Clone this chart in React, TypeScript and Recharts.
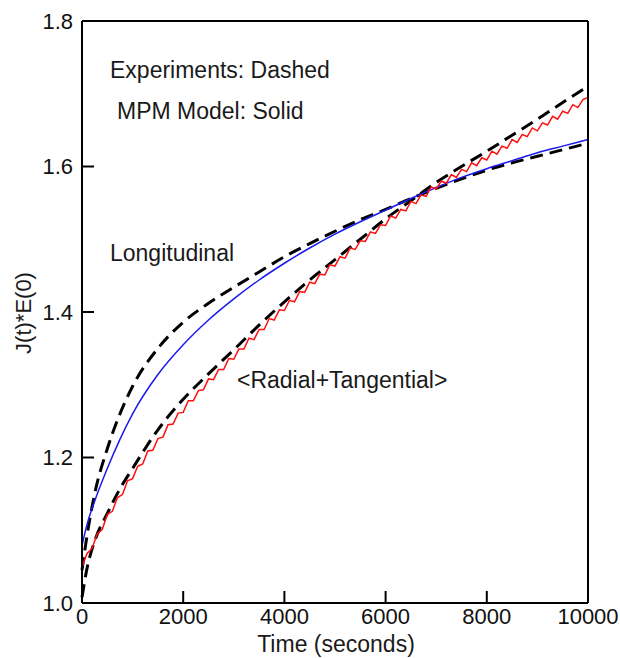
import { LineChart, Line, XAxis, YAxis } from "recharts";

const FONT = '"Liberation Sans", Arial, Helvetica, sans-serif';

const xTicks = [0, 2000, 4000, 6000, 8000, 10000];
const yTicks = [1.0, 1.2, 1.4, 1.6, 1.8];

// times (s) used by the three smooth curves
const smoothTimes = [
  0, 100, 250, 500, 750, 1000, 1500, 2000, 2500, 3000, 3500, 4000, 4500,
  5000, 5500, 6000, 6500, 7000, 7500, 8000, 8500, 9000, 9500, 10000,
];

// longitudinal, experiment (dashed)
const longitudinalExp = [
  1.045, 1.093, 1.15, 1.212, 1.26, 1.298, 1.35, 1.386, 1.412, 1.434, 1.455,
  1.476, 1.494, 1.511, 1.527, 1.541, 1.556, 1.57, 1.583, 1.595, 1.605, 1.614,
  1.623, 1.632,
];

// longitudinal, MPM model (blue)
const longitudinalModel = [
  1.079, 1.108, 1.14, 1.185, 1.225, 1.26, 1.314, 1.355, 1.389, 1.418, 1.444,
  1.467, 1.488, 1.507, 1.524, 1.54, 1.556, 1.571, 1.585, 1.597, 1.608, 1.619,
  1.628, 1.637,
];

// radial+tangential, experiment (dashed)
const radialExp = [
  1.008, 1.048, 1.085, 1.123, 1.157, 1.185, 1.238, 1.28, 1.315, 1.348, 1.382,
  1.414, 1.444, 1.472, 1.5, 1.528, 1.553, 1.578, 1.6, 1.621, 1.643, 1.665,
  1.688, 1.71,
];

// radial+tangential, MPM model (red, jagged), every 100 s
const radialModelTimes = Array.from({ length: 101 }, (_, i) => i * 100);
const radialModel = [
  1.049, 1.068, 1.075, 1.095, 1.101, 1.122, 1.126, 1.145, 1.149, 1.168,
  1.171, 1.188, 1.191, 1.209, 1.21, 1.226, 1.228, 1.245, 1.246, 1.261,
  1.262, 1.278, 1.278, 1.292, 1.293, 1.308, 1.307, 1.321, 1.321, 1.336,
  1.335, 1.349, 1.349, 1.364, 1.362, 1.376, 1.376, 1.391, 1.389, 1.403,
  1.402, 1.416, 1.414, 1.428, 1.427, 1.441, 1.439, 1.452, 1.451, 1.465,
  1.463, 1.476, 1.474, 1.488, 1.486, 1.498, 1.497, 1.51, 1.508, 1.52,
  1.519, 1.532, 1.529, 1.541, 1.539, 1.552, 1.549, 1.561, 1.559, 1.572,
  1.569, 1.58, 1.577, 1.589, 1.585, 1.596, 1.593, 1.605, 1.601, 1.612,
  1.609, 1.621, 1.617, 1.628, 1.625, 1.637, 1.633, 1.644, 1.641, 1.653,
  1.649, 1.66, 1.657, 1.669, 1.665, 1.676, 1.673, 1.685, 1.681, 1.692,
  1.695,
];

const toPoints = (ts: number[], vs: number[]) =>
  ts.map((t, i) => ({ t, v: vs[i] }));

const longExpData = toPoints(smoothTimes, longitudinalExp);
const longModelData = toPoints(smoothTimes, longitudinalModel);
const radExpData = toPoints(smoothTimes, radialExp);
const radModelData = toPoints(radialModelTimes, radialModel);

const W = 612;
const H = 650;

const tickStyle = { fill: "#111", fontSize: 22, fontFamily: FONT };
const axisLine = { stroke: "#000", strokeWidth: 2 };
const tickLine = { stroke: "#000", strokeWidth: 2 };

export default function App() {
  return (
    <div style={{ width: 620, height: 658, boxSizing: "border-box", padding: 8 }}>
      <style>{"body { margin: 0; }"}</style>
      <div style={{ position: "relative", width: W, height: H }}>
        <LineChart
          width={W}
          height={H}
          margin={{ top: 12, right: 31, left: 0, bottom: 0 }}
          style={{ overflow: "visible" }}
        >
          <XAxis
            dataKey="t"
            type="number"
            domain={[0, 10000]}
            ticks={xTicks}
            height={55}
            tickSize={-12}
            tickMargin={17}
            axisLine={axisLine}
            tickLine={tickLine}
            tick={tickStyle}
          />
          <XAxis
            xAxisId="top"
            orientation="top"
            dataKey="t"
            type="number"
            domain={[0, 10000]}
            ticks={xTicks}
            height={1}
            tickSize={-12}
            tickFormatter={() => ""}
            axisLine={axisLine}
            tickLine={tickLine}
          />
          <YAxis
            type="number"
            domain={[1, 1.8]}
            ticks={yTicks}
            width={74}
            tickSize={-12}
            tickMargin={21}
            tickFormatter={(v: number) => v.toFixed(1)}
            axisLine={axisLine}
            tickLine={tickLine}
            tick={tickStyle}
          />
          <YAxis
            yAxisId="right"
            orientation="right"
            type="number"
            domain={[1, 1.8]}
            ticks={yTicks}
            width={1}
            tickSize={-12}
            tickFormatter={() => ""}
            axisLine={axisLine}
            tickLine={tickLine}
          />
          <Line
            data={longExpData}
            dataKey="v"
            type="monotone"
            stroke="#000"
            strokeWidth={3}
            strokeDasharray="13 7"
            dot={false}
            isAnimationActive={false}
          />
          <Line
            data={radExpData}
            dataKey="v"
            type="monotone"
            stroke="#000"
            strokeWidth={3}
            strokeDasharray="13 7"
            dot={false}
            isAnimationActive={false}
          />
          <Line
            data={longModelData}
            dataKey="v"
            type="monotone"
            stroke="#1a1aee"
            strokeWidth={1.5}
            dot={false}
            isAnimationActive={false}
          />
          <Line
            data={radModelData}
            dataKey="v"
            type="linear"
            stroke="#ff1010"
            strokeWidth={1.5}
            dot={false}
            isAnimationActive={false}
          />
        </LineChart>
        <svg
          width={W}
          height={H}
          style={{ position: "absolute", left: 0, top: 0, pointerEvents: "none" }}
          fontFamily={FONT}
          fill="#1a1a1a"
        >
          <text x={102} y={70} fontSize={23}>Experiments: Dashed</text>
          <text x={109} y={111} fontSize={23}>MPM Model: Solid</text>
          <text x={102} y={253} fontSize={23}>Longitudinal</text>
          <text x={229} y={380} fontSize={23}>&lt;Radial+Tangential&gt;</text>
          <text x={328} y={644} fontSize={23} textAnchor="middle">
            Time (seconds)
          </text>
          <text
            x={15}
            y={305}
            fontSize={22}
            textAnchor="middle"
            dominantBaseline="central"
            transform="rotate(-90 15 305)"
          >
            J(t)*E(0)
          </text>
        </svg>
      </div>
    </div>
  );
}
